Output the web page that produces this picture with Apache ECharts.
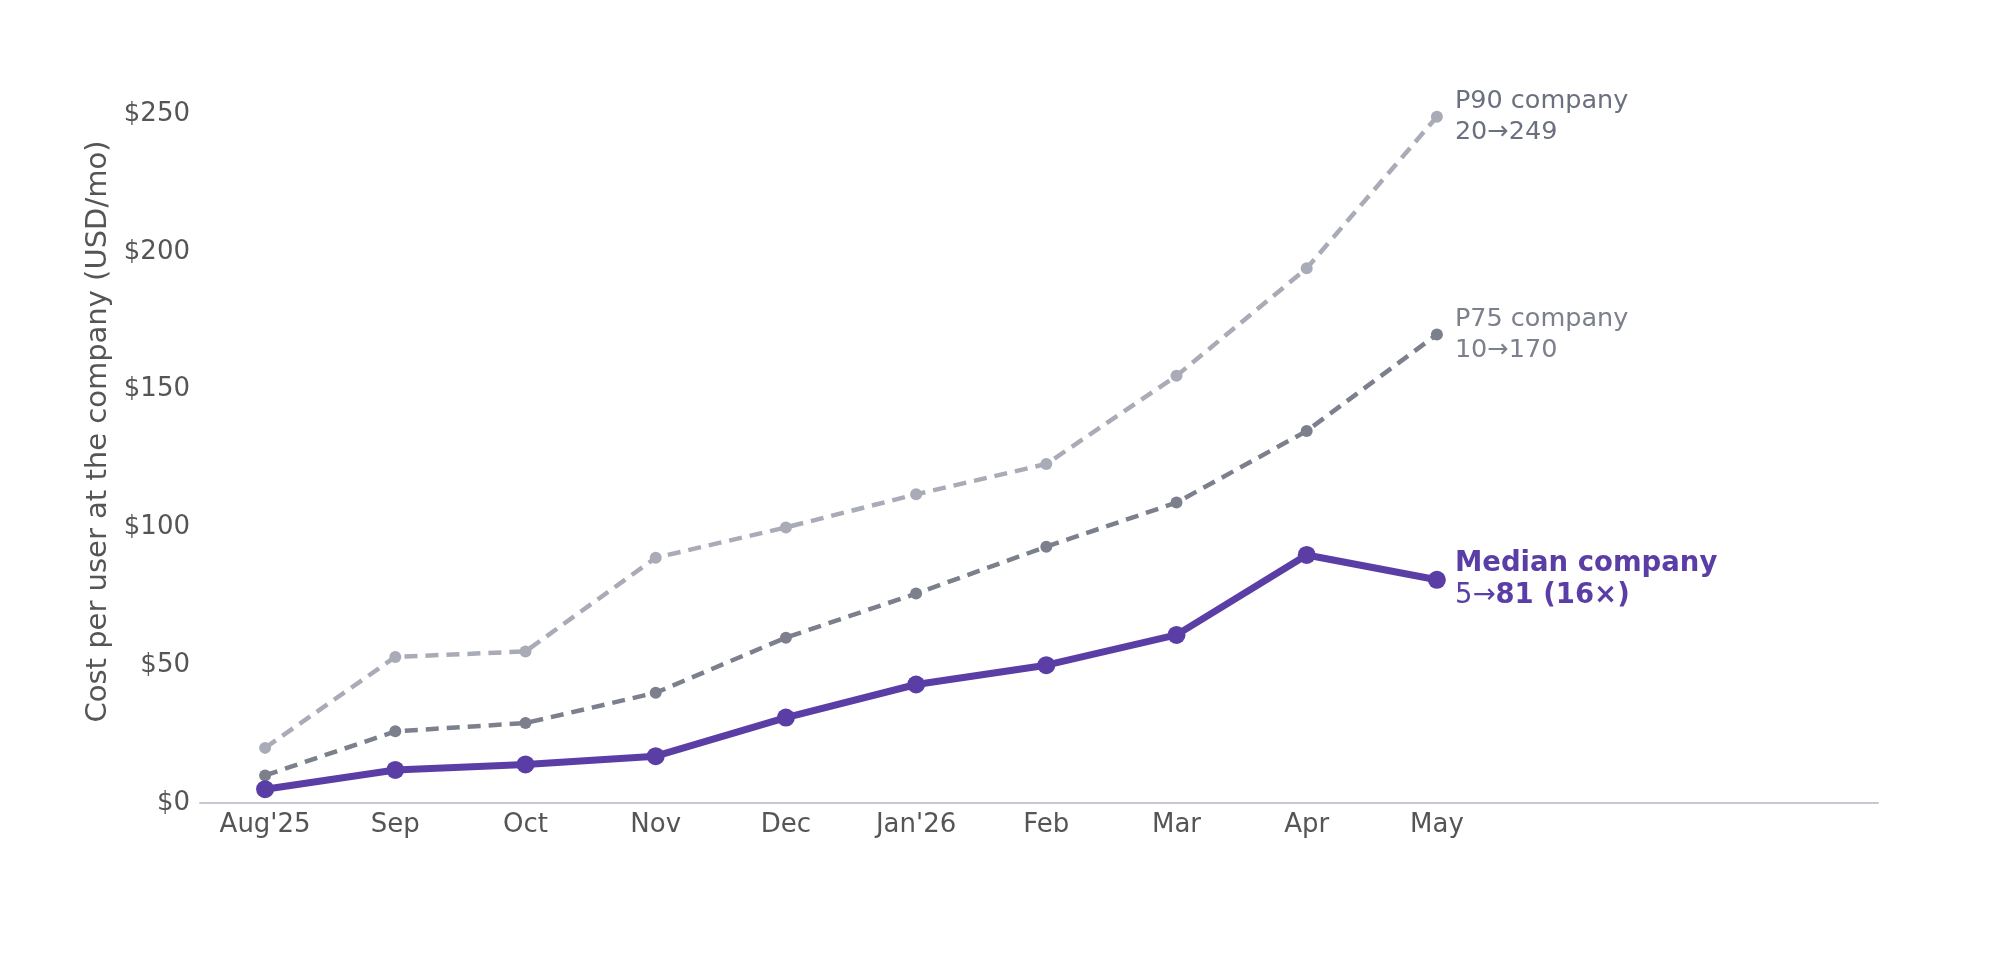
<!DOCTYPE html>
<html>
<head>
<meta charset="utf-8">
<script src="https://cdn.jsdelivr.net/npm/echarts@6/dist/echarts.min.js"></script>
<style>
html,body{margin:0;padding:0;background:#fff;}
#chart{width:1999px;height:966px;}
</style>
</head>
<body>
<div id="chart"></div>
<script>
const months = ["Aug'25", "Sep", "Oct", "Nov", "Dec", "Jan'26", "Feb", "Mar", "Apr", "May"];
const p90 = [20, 53, 55, 89, 100, 112, 123, 155, 194, 249];
const p75 = [10, 26, 29, 40, 60, 76, 93, 109, 135, 170];
const median = [5, 12, 14, 17, 31, 43, 50, 61, 90, 81];
const yTicks = [0, 50, 100, 150, 200, 250];

const FONT = 'DejaVu Sans';
const chart = echarts.init(document.getElementById('chart'), null, {renderer: 'canvas'});

const gridTop = 114, gridBottom = 163, gridLeft = 200;

chart.setOption({
  animation: false,
  backgroundColor: '#ffffff',
  textStyle: {fontFamily: FONT},
  grid: [
    {left: gridLeft, top: gridTop, width: 1678, bottom: gridBottom},
    {left: gridLeft, top: gridTop, width: 1302, bottom: gridBottom}
  ],
  xAxis: [
    {
      type: 'value', gridIndex: 0, min: 0, max: 1,
      axisLine: {show: true, lineStyle: {color: '#c9c7d4', width: 2}},
      axisTick: {show: false}, axisLabel: {show: false}, splitLine: {show: false}
    },
    {
      type: 'category', gridIndex: 1, data: months, boundaryGap: true,
      axisLine: {show: false}, axisTick: {show: false}, splitLine: {show: false},
      axisLabel: {color: '#555555', fontSize: 26, fontFamily: FONT, margin: 9}
    }
  ],
  yAxis: [
    {
      type: 'value', gridIndex: 0, min: yTicks[0], max: yTicks[yTicks.length - 1], interval: 50,
      axisLine: {show: false}, axisTick: {show: false}, splitLine: {show: false},
      axisLabel: {color: '#555555', fontSize: 26, fontFamily: FONT, margin: 10,
        padding: [6, 0, 0, 0], formatter: v => '$' + v},
      name: 'Cost per user at the company (USD/mo)',
      nameLocation: 'middle', nameRotate: 90, nameGap: 87,
      nameTextStyle: {color: '#555555', fontSize: 29, fontFamily: FONT, padding: [0, 0, 0, 54]}
    },
    {
      type: 'value', gridIndex: 1, min: yTicks[0], max: yTicks[yTicks.length - 1], interval: 50,
      show: false
    }
  ],
  series: [
    {
      name: 'P90 company', type: 'line', xAxisIndex: 1, yAxisIndex: 1, data: p90,
      clip: false, symbol: 'circle', symbolSize: 12, z: 2,
      lineStyle: {color: '#a9abb6', width: 4.5, type: [13, 8]},
      itemStyle: {color: '#a9abb6'},
      endLabel: {
        show: true, distance: 18, color: '#6b7080', fontSize: 25.5, fontFamily: FONT,
        lineHeight: 31, align: 'left', verticalAlign: 'middle',
        formatter: () => 'P90 company\n' + p90[0] + '\u2192' + p90[p90.length - 1]
      }
    },
    {
      name: 'P75 company', type: 'line', xAxisIndex: 1, yAxisIndex: 1, data: p75,
      clip: false, symbol: 'circle', symbolSize: 12, z: 3,
      lineStyle: {color: '#7c808c', width: 4.5, type: [13, 8]},
      itemStyle: {color: '#7c808c'},
      endLabel: {
        show: true, distance: 18, color: '#7c808c', fontSize: 25.5, fontFamily: FONT,
        lineHeight: 31, align: 'left', verticalAlign: 'middle',
        formatter: () => 'P75 company\n' + p75[0] + '\u2192' + p75[p75.length - 1]
      }
    },
    {
      name: 'Median company', type: 'line', xAxisIndex: 1, yAxisIndex: 1, data: median,
      clip: false, symbol: 'circle', symbolSize: 18, z: 4,
      lineStyle: {color: '#5a3ea6', width: 7},
      itemStyle: {color: '#5a3ea6'},
      endLabel: {
        show: true, distance: 18, align: 'left', verticalAlign: 'middle',
        formatter: () => {
          const a = median[0], b = median[median.length - 1];
          return '{b|Median company}\n{n|' + a + '\u2192}{b|' + b + ' (' + Math.round(b / a) + '\u00d7)}';
        },
        rich: {
          b: {color: '#5a3ea6', fontSize: 27.5, fontWeight: 'bold', fontFamily: FONT, lineHeight: 32},
          n: {color: '#5a3ea6', fontSize: 27.5, fontFamily: FONT, lineHeight: 32}
        }
      }
    }
  ]
});
</script>
</body>
</html>
